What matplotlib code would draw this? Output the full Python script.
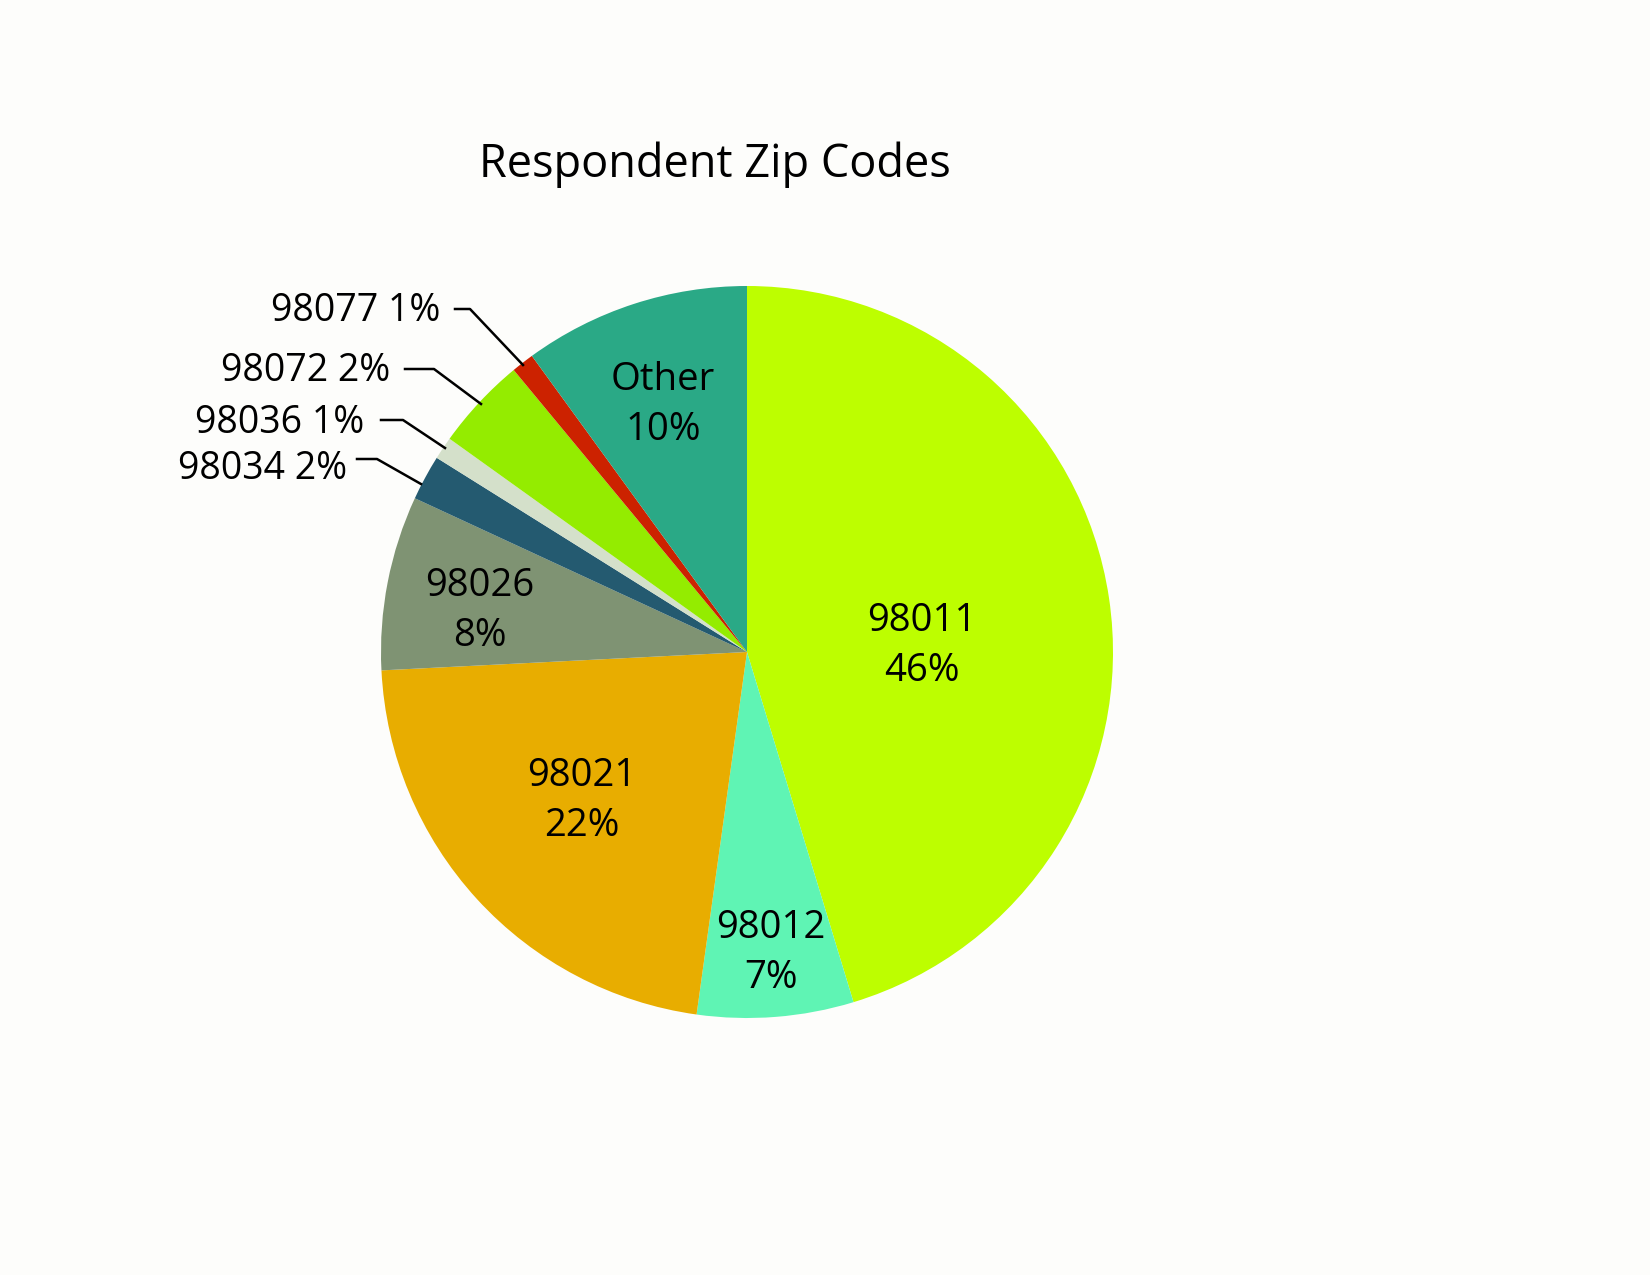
import matplotlib.pyplot as plt

plt.rcParams['font.family'] = ['Open Sans', 'DejaVu Sans']

zips = ['98011', '98012', '98021', '98026', '98034', '98036', '98072', '98077', 'Other']
shares = [45.3, 6.9, 22.0, 7.7, 2.0, 1.0, 4.1, 1.0, 10.0]
pct_labels = ['46%', '7%', '22%', '8%', '2%', '1%', '2%', '1%', '10%']
colors = ['#bdfe00', '#5ff4b4', '#e8ad00', '#7f9373', '#245a70',
          '#d4e0ca', '#94ec00', '#cc2200', '#2aa986']

fig = plt.figure(figsize=(16.5, 12.75), dpi=100)
fig.patch.set_facecolor('#fdfdfb')
ax = fig.add_axes([0, 0, 1, 1])

cx, cy, r = 747, 652, 366
# y axis is flipped, so counterclock=True draws clockwise on screen
ax.pie(shares, colors=colors, startangle=-90, counterclock=True,
       center=(cx, cy), radius=r, frame=True,
       wedgeprops=dict(linewidth=0))
ax.set_xlim(0, 1650)
ax.set_ylim(1275, 0)
ax.set_aspect('equal')
ax.axis('off')

ax.text(715, 165, 'Respondent Zip Codes', fontsize=32.5, ha='center', va='center')

# labels drawn inside the slices
inside = {0: (922, 646), 1: (771, 953), 2: (582, 801), 3: (480, 611), 8: (663, 405)}
for i, (x, y) in inside.items():
    ax.text(x, y, zips[i] + '\n' + pct_labels[i], fontsize=27.5, ha='center',
            va='center', linespacing=1.4)

# small slices with leader lines
outside = {
    7: ((440, 311), [(455, 309), (470, 309), (523, 365)]),
    6: ((390, 371), [(405, 369), (434, 369), (481, 404)]),
    5: ((364, 423), [(381, 420), (403, 420), (445, 448)]),
    4: ((347, 469), [(357, 459), (377, 459), (421, 484)]),
}
for i, ((x, y), pts) in outside.items():
    ax.text(x, y, zips[i] + ' ' + pct_labels[i], fontsize=27, ha='right', va='center')
    ax.plot([p[0] for p in pts], [p[1] for p in pts], color='black', lw=1.8)

fig.savefig('out.png', dpi=100, facecolor=fig.get_facecolor())
